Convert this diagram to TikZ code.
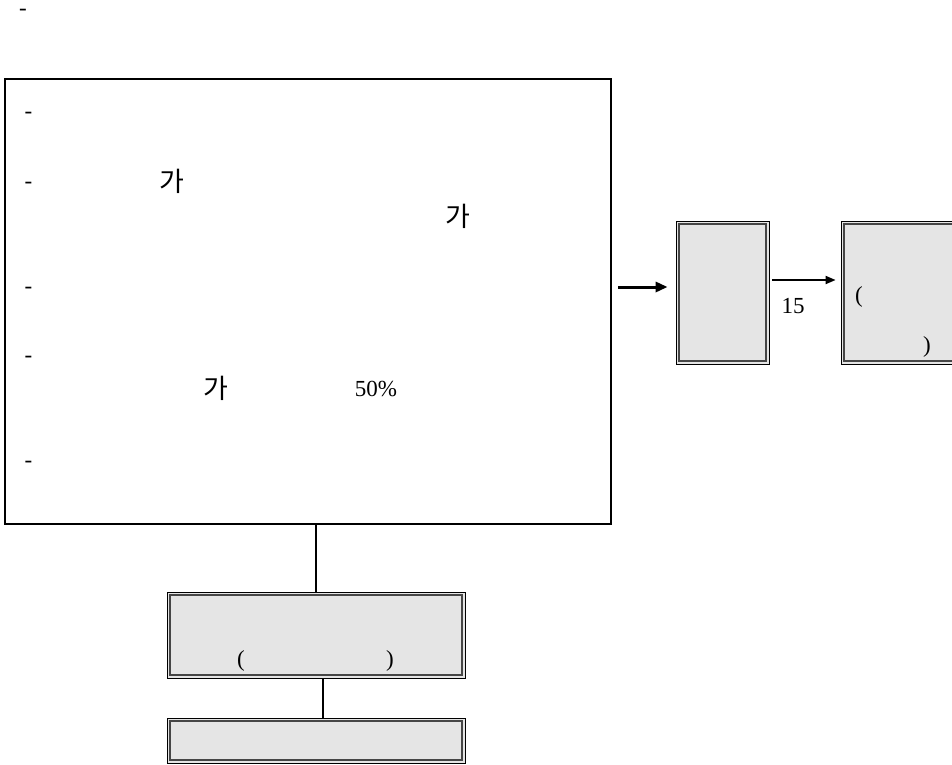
\documentclass[tikz,border=0pt]{standalone}
\usepackage{fontspec}
\setmainfont{Liberation Serif}
\newfontfamily\krfont{Noto Sans CJK KR}
\usetikzlibrary{arrows.meta}
\begin{document}
\begin{tikzpicture}[x=1pt,y=-1pt,
  txt/.style={inner sep=0pt, font=\fontsize{23}{27}\selectfont},
  kr/.style={inner sep=0pt, font=\fontsize{27}{31}\selectfont\krfont},
  dashmark/.style={inner sep=0pt, anchor=base, font=\fontsize{23}{27}\selectfont},
  bigbox/.style={draw, line width=2.8pt, inner sep=0pt},
  greybox/.style={draw=black, line width=0.8pt, fill=black!10, inner sep=0pt,
    path picture={\draw[gray!55!black, line width=1.3pt]
      ([shift={(3pt,-3pt)}]path picture bounding box.north west) rectangle
      ([shift={(-3pt,3pt)}]path picture bounding box.south east);}},
  arrthick/.style={-{Triangle[length=12pt,width=10pt]}, line width=3pt},
  arrthin/.style={-{Triangle[length=10pt,width=8pt]}, line width=1.8pt},
  conn/.style={line width=1.3pt}]
\useasboundingbox (0,0) rectangle (952,764);
\clip (0,0) rectangle (952,764);

% top dash
\node[dashmark] (d0) at (23,15) {-};

% big box
\node[bigbox, minimum width=606pt, minimum height=445pt] (big) at (308,301.5) {};
\node[dashmark] (d1) at (28.5,118) {-};
\node[dashmark] (d2) at (28.5,188) {-};
\node[dashmark] (d3) at (28.5,293) {-};
\node[dashmark] (d4) at (28.5,362) {-};
\node[dashmark] (d5) at (28.5,467) {-};
\node[kr] (k1) at (172,181) {가};
\node[kr] (k2) at (458,216) {가};
\node[kr] (k3) at (216,388) {가};
\node[txt] (p50) at (376,389) {50\%};

% right boxes
\node[greybox, minimum width=93pt, minimum height=143pt] (b2) at (722.5,292.5) {};
\node[greybox, minimum width=150pt, minimum height=143pt] (b3) at (916,292.5) {};
\node[txt] (lp3) at (859,297) {(};
\node[txt] (rp3) at (927,347) {)};
\node[txt] (n15) at (793,306) {15};

% bottom boxes
\node[greybox, minimum width=298pt, minimum height=86pt] (b4) at (316,635) {};
\node[txt] (lp4) at (241,661) {(};
\node[txt] (rp4) at (390,661) {)};
\node[greybox, minimum width=298pt, minimum height=45pt] (b5) at (316,740.5) {};

% connectors
\draw[arrthick] ([shift={(6,-14.5)}]big.east) -- ([shift={(-8,-5.5)}]b2.west);
\draw[arrthin] ([shift={(3,-12.5)}]b2.east) -- ([shift={(-5,-12.5)}]b3.west);
\draw[conn] ([xshift=8]big.south) -- (b4.north);
\draw[conn] ([xshift=7]b4.south) -- ([xshift=7]b5.north);
\end{tikzpicture}
\end{document}
